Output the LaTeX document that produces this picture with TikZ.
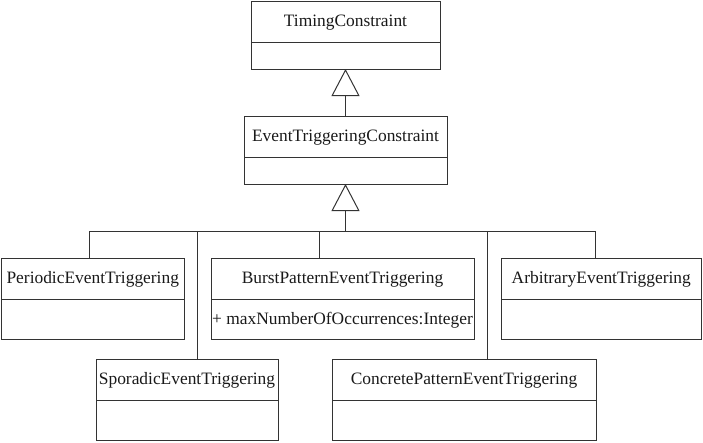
\documentclass[tikz,border=0pt]{standalone}
\usepackage{fontspec}
\setmainfont{Liberation Serif}
\usetikzlibrary{arrows.meta}
\tikzset{
  cls/.style={draw=black!80, line width=1pt, inner sep=0pt, outer sep=0pt, rectangle},
  ttl/.style={font=\fontsize{17.4}{20}\selectfont, inner sep=0pt, text=black!90},
  conn/.style={draw=black!80, line width=1pt},
  gen/.style={conn, -{Triangle[open, length=27pt, width=28pt, line width=1pt]}}
}
% name, left, top, right, bottom, divider, title
\newcommand\umlclass[7]{%
  \node[cls, minimum width={#4-#2}, minimum height={#5-#3}] (#1) at ({(#2+#4)/2},{(#3+#5)/2}) {};
  \draw[conn] (#1.west |- 0,#6) -- (#1.east |- 0,#6);
  \node[ttl] (#1-t) at ({(#2+#4)/2},{(#3+#6)/2+1}) {#7};
}
\begin{document}
\begin{tikzpicture}[x=1pt,y=-1pt]
\useasboundingbox (0,0) rectangle (703,442);
\umlclass{tc}{251}{1.5}{440}{69}{42}{TimingConstraint}
\umlclass{etc}{244}{116}{447}{184}{157}{EventTriggeringConstraint}
\umlclass{per}{1.5}{258}{184}{339}{299}{PeriodicEventTriggering}
\umlclass{bur}{211}{258}{474}{339}{299}{BurstPatternEventTriggering}
\umlclass{arb}{501}{258}{701.5}{339}{299}{ArbitraryEventTriggering}
\umlclass{spo}{96}{359}{278}{440.5}{400}{SporadicEventTriggering}
\umlclass{con}{332}{359}{596}{440.5}{400}{ConcretePatternEventTriggering}
\node[ttl] (bur-a) at (342.5,320) {+ maxNumberOfOccurrences:Integer};
\coordinate (bus) at (345.5,231);
\draw[gen] (etc.north) -- (tc.south);
\draw[gen] (bus) -- (etc.south);
\draw[conn] ([xshift=-3.5pt]per.north |- bus) -- ([xshift=-5.5pt]arb.north |- bus);
\draw[conn] ([xshift=-3.5pt]per.north) -- ([xshift=-3.5pt]per.north |- bus);
\draw[conn] ([xshift=-23.5pt]bur.north) -- ([xshift=-23.5pt]bur.north |- bus);
\draw[conn] ([xshift=-5.5pt]arb.north) -- ([xshift=-5.5pt]arb.north |- bus);
\draw[conn] ([xshift=10pt]spo.north) -- ([xshift=10pt]spo.north |- bus);
\draw[conn] ([xshift=23.5pt]con.north) -- ([xshift=23.5pt]con.north |- bus);
\end{tikzpicture}
\end{document}
